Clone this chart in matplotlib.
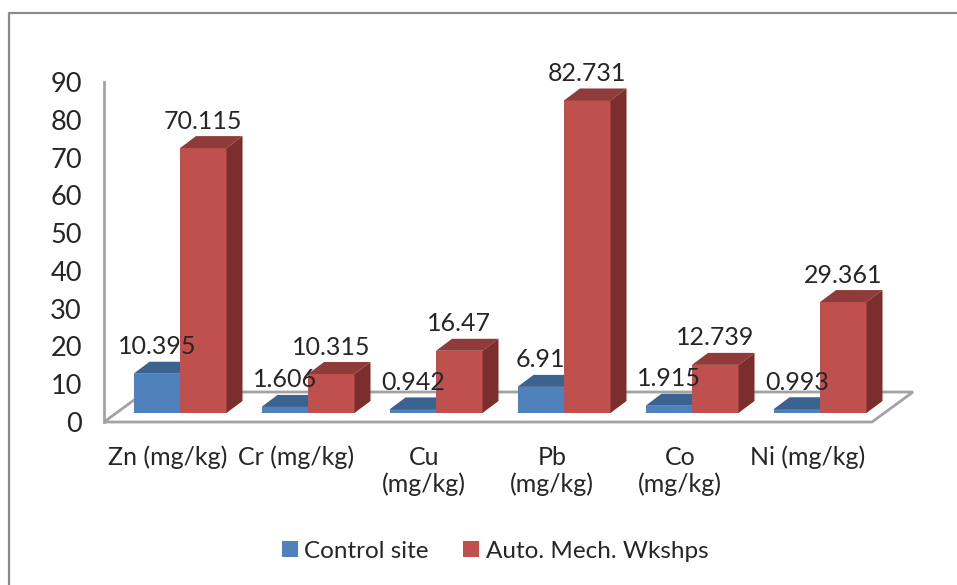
import numpy as np
import matplotlib
matplotlib.use("Agg")
import matplotlib.pyplot as plt
from matplotlib.patches import Polygon, Patch
from matplotlib.lines import Line2D

plt.rcParams['font.family'] = ['Lato', 'DejaVu Sans']

categories = ["Zn (mg/kg)", "Cr (mg/kg)", "Cu\n(mg/kg)", "Pb\n(mg/kg)", "Co\n(mg/kg)", "Ni (mg/kg)"]
control_site = [10.395, 1.606, 0.942, 6.91, 1.915, 0.993]
auto_mech = [70.115, 10.315, 16.47, 82.731, 12.739, 29.361]
control_labels = ["10.395", "1.606", "0.942", "6.91", "1.915", "0.993"]
auto_labels = ["70.115", "10.315", "16.47", "82.731", "12.739", "29.361"]
y_ticks = list(range(0, 100, 10))

W, H = 957, 585
fig = plt.figure(figsize=(W / 100, H / 100), dpi=100)

#plot area in pixels of the image
left, right, top, bottom = 104, 872, 82, 422
ax = fig.add_axes([left / W, 1 - bottom / H, (right - left) / W, (bottom - top) / H])
ax.set_xlim(-0.5, 5.5)
ax.set_ylim(0, 90)

#pixel to data conversion for the fake 3d depth
px_x = 6 / (right - left)
px_y = 90 / (bottom - top)

text_col = "#262626"
grey = "#a3a3a3"

#floor
floor_dx, floor_dy = 41 * px_x, 30 * px_y
floor = Polygon([(-0.5, 0), (5.5, 0), (5.5 + floor_dx, floor_dy), (-0.5 + floor_dx, floor_dy)],
                closed=True, facecolor="white", edgecolor=grey, lw=2, clip_on=False, zorder=1)
ax.add_patch(floor)

#bars
x = np.arange(len(categories))
bar_w = 46.5 * px_x
shift = 12 * px_x
base = 9 * px_y
dx, dy = 16 * px_x, 12 * px_y


def draw_bars(xpos, values, front, top_col, side, z):
    ax.bar(xpos, values, width=bar_w, bottom=base, color=front, zorder=z)
    for xi, v in zip(xpos, values):
        xl, xr = xi - bar_w / 2, xi + bar_w / 2
        yt, yb = base + v, base
        ax.add_patch(Polygon([(xl, yt), (xr, yt), (xr + dx, yt + dy), (xl + dx, yt + dy)],
                             facecolor=top_col, edgecolor="none", clip_on=False, zorder=z))
        ax.add_patch(Polygon([(xr, yb), (xr, yt), (xr + dx, yt + dy), (xr + dx, yb + dy)],
                             facecolor=side, edgecolor="none", clip_on=False, zorder=z))


x_control = x + shift - bar_w / 2
x_auto = x + shift + bar_w / 2
for i in range(len(x)):
    draw_bars([x_control[i]], [control_site[i]], "#4f81bd", "#3c6290", "#345679", 2 + i * 2)
    draw_bars([x_auto[i]], [auto_mech[i]], "#c0504d", "#8e3b39", "#7a2f2d", 3 + i * 2)

#data labels
for xi, v, s in zip(x_control, control_site, control_labels):
    ax.text(xi, base + v + 27 * px_y, s, ha="center", va="center", fontsize=18, color=text_col, zorder=30)
for xi, v, s in zip(x_auto, auto_mech, auto_labels):
    ax.text(xi, base + v + 27 * px_y, s, ha="center", va="center", fontsize=18, color=text_col, zorder=30)

#axes
for s in ["top", "right", "bottom"]:
    ax.spines[s].set_visible(False)
ax.spines["left"].set_color(grey)
ax.spines["left"].set_linewidth(2)
ax.patch.set_alpha(0)
ax.set_yticks(y_ticks)
ax.set_xticks(x)
ax.set_xticklabels(categories, fontsize=18, color=text_col, linespacing=1.2, va="top")
ax.tick_params(axis="y", length=0, pad=16, labelsize=19.5, labelcolor=text_col)
ax.tick_params(axis="x", length=0, pad=17)

#legend
handles = [Patch(facecolor="#4f81bd"), Patch(facecolor="#c0504d")]
fig.legend(handles, ["Control site", "Auto. Mech. Wkshps"], ncol=2, frameon=False, fontsize=17.5,
           loc="center", bbox_to_anchor=(495 / W, 1 - 551 / H), handlelength=0.66, handleheight=0.62,
           handletextpad=0.25, columnspacing=1.44, labelcolor=text_col)

#chart frame
fig.add_artist(Line2D([9 / W, 9 / W, 1], [0, 1 - 13 / H, 1 - 13 / H], color="#8a8a8a", lw=1.6))

fig.savefig("out.png", dpi=100)
